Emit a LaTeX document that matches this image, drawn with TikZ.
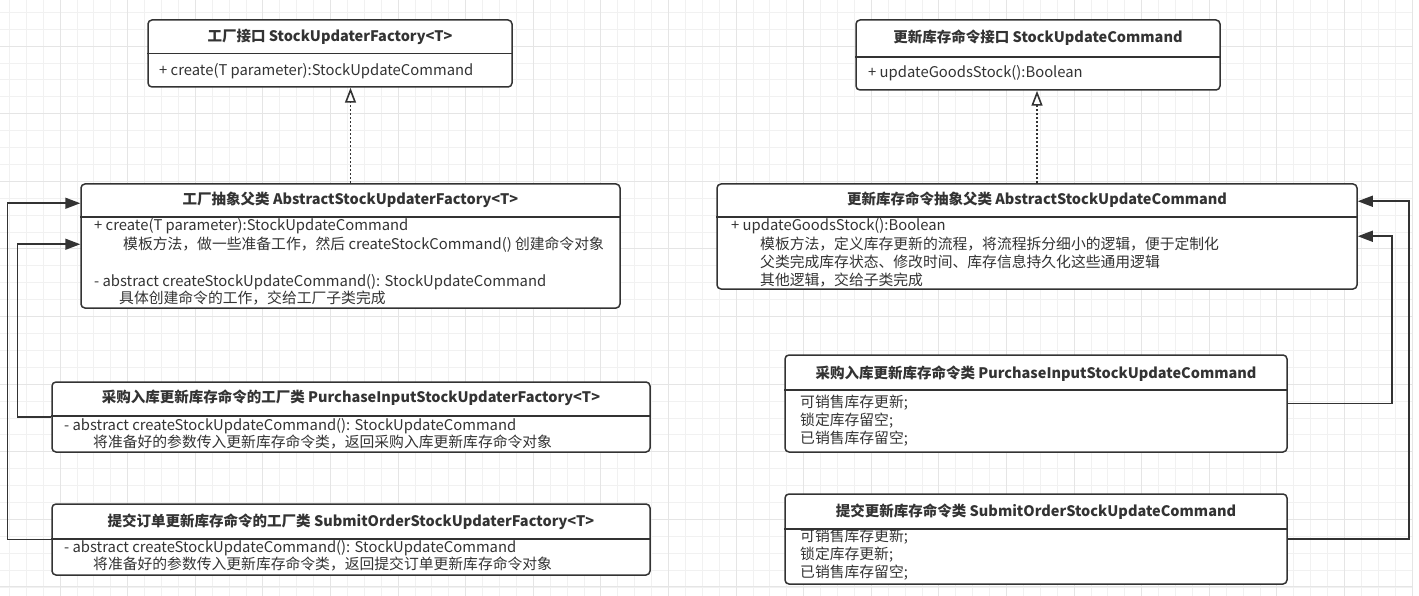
\documentclass[tikz,border=0pt]{standalone}
\usepackage{fontspec}
\setmainfont{Noto Sans CJK SC}
\usetikzlibrary{arrows.meta}
\definecolor{ink}{HTML}{333333}
\definecolor{gridminor}{HTML}{F1F1F1}
\definecolor{gridmajor}{HTML}{E5E5E5}

\tikzstyle{cls}=[draw=ink, line width=1.5pt, rounded corners=4pt, fill=white, inner sep=0pt]
\tikzstyle{sep}=[draw=ink, line width=1.5pt]
\tikzstyle{ttl}=[font=\bfseries\fontsize{14.5}{17}\selectfont, text=ink, anchor=base, inner sep=0pt]
\tikzstyle{txt}=[font=\fontsize{14.8}{18}\selectfont, text=ink, anchor=base west, inner sep=0pt]
\tikzstyle{inh}=[-{Triangle[length=15pt,width=11pt]}, draw=ink, line width=1.5pt]
\tikzstyle{impl}=[-{Triangle[open,length=15pt,width=11pt,line width=1.6pt]}, draw=ink, line width=1.5pt, dash pattern=on 2pt off 2pt]

\begin{document}
\begin{tikzpicture}[x=1pt, y=-1pt]
    \useasboundingbox (0,0) rectangle (1419,596);
    \fill[white] (0,0) rectangle (1419,596);
    \foreach \k in {0,...,83} \draw[gridminor, line width=0.8pt] ({9.3+16.9*\k},0) -- ({9.3+16.9*\k},596);
    \foreach \k in {0,...,34} \draw[gridminor, line width=0.8pt] (0,{12.3+16.9*\k}) -- (1412,{12.3+16.9*\k});
    \foreach \k in {0,...,20} \draw[gridmajor, line width=0.8pt] ({60+67.6*\k},0) -- ({60+67.6*\k},596);
    \foreach \k in {0,...,8} \draw[gridmajor, line width=0.8pt] (0,{46+67.6*\k}) -- (1412,{46+67.6*\k});

    \node[cls, minimum width=364pt, minimum height=67pt] (fac) at (330,53.5) {};
    \node[cls, minimum width=364pt, minimum height=70pt] (cmd) at (1038,55) {};
    \node[cls, minimum width=539pt, minimum height=124pt] (absfac) at (350.5,246) {};
    \node[cls, minimum width=640pt, minimum height=105pt] (abscmd) at (1037,236.5) {};
    \node[cls, minimum width=598pt, minimum height=70pt] (purfac) at (351,417) {};
    \node[cls, minimum width=598pt, minimum height=71pt] (subfac) at (351,539.5) {};
    \node[cls, minimum width=502pt, minimum height=97pt] (purcmd) at (1036,403.5) {};
    \node[cls, minimum width=502pt, minimum height=90pt] (subcmd) at (1036,539) {};

    \draw[sep] (fac.west |- 0,53.5) -- (fac.east |- 0,53.5);
    \draw[sep] (cmd.west |- 0,57) -- (cmd.east |- 0,57);
    \draw[sep] (absfac.west |- 0,217) -- (absfac.east |- 0,217);
    \draw[sep] (abscmd.west |- 0,217) -- (abscmd.east |- 0,217);
    \draw[sep] (purfac.west |- 0,416) -- (purfac.east |- 0,416);
    \draw[sep] (subfac.west |- 0,539) -- (subfac.east |- 0,539);
    \draw[sep] (purcmd.west |- 0,390) -- (purcmd.east |- 0,390);
    \draw[sep] (subcmd.west |- 0,529) -- (subcmd.east |- 0,529);

    \node[ttl] (facttl) at (fac.center |- 0,42) {工厂接口 StockUpdaterFactory<T>};
    \node[ttl] (cmdttl) at (cmd.center |- 0,43) {更新库存命令接口 StockUpdateCommand};
    \node[ttl] (absfacttl) at (absfac.center |- 0,205) {工厂抽象父类 AbstractStockUpdaterFactory<T>};
    \node[ttl] (abscmdttl) at (abscmd.center |- 0,205) {更新库存命令抽象父类 AbstractStockUpdateCommand};
    \node[ttl] (purfacttl) at (purfac.center |- 0,402) {采购入库更新库存命令的工厂类 PurchaseInputStockUpdaterFactory<T>};
    \node[ttl] (subfacttl) at (subfac.center |- 0,526) {提交订单更新库存命令的工厂类 SubmitOrderStockUpdaterFactory<T>};
    \node[ttl] (purcmdttl) at (purcmd.center |- 0,378) {采购入库更新库存命令类 PurchaseInputStockUpdateCommand};
    \node[ttl] (subcmdttl) at (subcmd.center |- 0,516) {提交更新库存命令类 SubmitOrderStockUpdateCommand};

    \node[txt] (fac1) at (159,76) {+ create(T parameter):StockUpdateCommand};
    \node[txt] (cmd1) at (868,78) {+ updateGoodsStock():Boolean};

    \node[txt] (absfac1) at (94,231) {+ create(T parameter):StockUpdateCommand};
    \node[txt] (absfac2) at (123,249) {模板方法，做一些准备工作，然后 createStockCommand() 创建命令对象};
    \node[txt] (absfac3) at (94,286) {- abstract createStockUpdateCommand(): StockUpdateCommand};
    \node[txt] (absfac4) at (119,303) {具体创建命令的工作，交给工厂子类完成};

    \node[txt] (abscmd1) at (731,231) {+ updateGoodsStock():Boolean};
    \node[txt] (abscmd2) at (760,249) {模板方法，定义库存更新的流程，将流程拆分细小的逻辑，便于定制化};
    \node[txt] (abscmd3) at (760,267) {父类完成库存状态、修改时间、库存信息持久化这些通用逻辑};
    \node[txt] (abscmd4) at (760,285) {其他逻辑，交给子类完成};

    \node[txt] (purfac1) at (64,430) {- abstract createStockUpdateCommand(): StockUpdateCommand};
    \node[txt] (purfac2) at (93,447) {将准备好的参数传入更新库存命令类，返回采购入库更新库存命令对象};
    \node[txt] (subfac1) at (64,552) {- abstract createStockUpdateCommand(): StockUpdateCommand};
    \node[txt] (subfac2) at (93,569) {将准备好的参数传入更新库存命令类，返回提交订单更新库存命令对象};

    \node[txt] (purcmd1) at (800,407) {可销售库存更新;};
    \node[txt] (purcmd2) at (800,425) {锁定库存留空;};
    \node[txt] (purcmd3) at (800,443) {已销售库存留空;};
    \node[txt] (subcmd1) at (800,541) {可销售库存更新;};
    \node[txt] (subcmd2) at (800,559) {锁定库存更新;};
    \node[txt] (subcmd3) at (800,577) {已销售库存留空;};

    \draw[impl] (absfac.north) -- (absfac.north |- fac.south);
    \draw[impl] (abscmd.north) -- (abscmd.north |- cmd.south);
    \draw[inh] (subfac.west) -- ++(-44,0) |- ([yshift=-20pt]absfac.north west);
    \draw[inh] (purfac.west) -- ++(-34,0) |- ([yshift=-61pt]absfac.north west);
    \draw[inh] (purcmd.east) -- ++(104,0) |- ([yshift=-53pt]abscmd.north east);
    \draw[inh] (subcmd.east) -- ++(121,0) |- ([yshift=-18pt]abscmd.north east);
\end{tikzpicture}
\end{document}
